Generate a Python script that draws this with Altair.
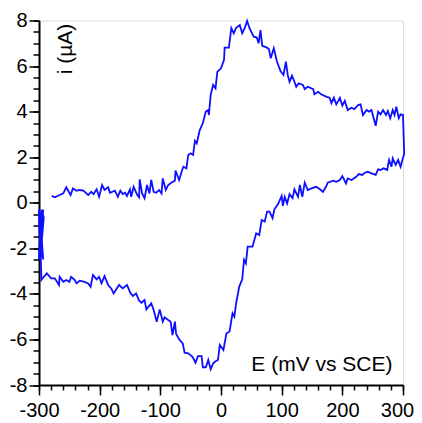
import altair as alt
import pandas as pd

# Forward (anodic) scan, upper branch
upper_E = [-279, -274, -266, -260, -255, -248, -244, -238, -233, -227, -219, -214, -210, -205, -201,
           -196, -192, -186, -183, -175, -170, -166, -162, -158, -155, -150, -148, -144, -138, -135,
           -134, -130, -126, -122, -118, -115, -111, -107, -102, -98, -96, -91, -87, -82, -76, -75,
           -69, -64, -62, -57, -54, -50, -46, -43, -40, -35, -30, -25, -21, -20, -17, -13, -9, -6,
           0, 5, 6, 13, 17, 21, 25, 31, 35, 39, 43, 47, 54, 59, 62, 65, 68, 75, 79, 82, 87, 92, 98,
           103, 107, 110, 113, 117, 120, 124, 128, 135, 138, 143, 152, 154, 160, 165, 174, 179, 182,
           186, 190, 196, 200, 204, 209, 215, 220, 226, 230, 234, 240, 244, 248, 255, 259, 263, 267,
           272, 275, 279, 283, 286, 289, 293, 296, 300]
upper_I = [0.30, 0.24, 0.34, 0.41, 0.68, 0.34, 0.63, 0.53, 0.56, 0.53, 0.34, 0.48, 0.38, 0.59, 0.26,
           0.78, 0.56, 0.68, 0.44, 0.53, 0.26, 0.53, 0.38, 0.44, 0.30, 0.59, 0.26, 0.70, 0.34, 0.24,
           1.03, 0.41, 0.20, 0.78, 0.41, 1.00, 0.48, 0.44, 0.56, 0.41, 1.07, 0.56, 0.78, 0.88, 0.97, 1.41,
           1.00, 1.44, 1.58, 1.51, 2.10, 2.17, 2.10, 2.72, 2.61, 3.19, 3.49, 4.00, 4.07, 3.85, 4.73, 5.17, 5.02, 5.75,
           5.90, 6.27, 6.81, 6.81, 7.66, 7.44, 7.68, 7.80, 7.44, 7.66, 7.98, 7.66, 7.29, 7.25, 7.00, 7.58, 6.89, 6.82, 6.75, 6.34, 6.78, 6.22, 5.78,
           5.61, 6.19, 5.61, 5.31, 5.58, 5.39, 5.09, 5.24, 5.17, 4.99, 5.09, 4.99, 4.76, 4.87, 4.76, 4.65, 4.61, 4.37,
           4.61, 4.32, 4.61, 4.26, 4.47, 4.07, 4.17, 4.11, 4.29, 4.32, 3.85, 4.07, 4.00, 4.07, 3.38, 4.00, 3.88, 4.07,
           3.85, 4.03, 3.71, 4.07, 3.85, 4.22, 3.71, 3.88, 3.85]

# Reverse (cathodic) scan, lower branch
lower_E = [302, 299, 296, 292, 288, 283, 281, 277, 274, 268, 263, 259, 255, 248, 242, 237, 233, 227, 223,
           215, 209, 206, 200, 196, 190, 185, 176, 173, 168, 163, 157, 149, 143, 138, 134, 130, 127, 121,
           118, 113, 109, 105, 102, 100, 94, 88, 85, 80, 76, 72, 67, 63, 58, 52, 44, 41, 38, 35, 30, 25,
           22, 19, 14, 9, 4, -2, -5, -10, -13, -17, -21, -25, -30, -32, -38, -42, -47, -54, -60, -63, -68,
           -74, -76, -80, -83, -87, -93, -96, -101, -106, -111, -115, -123, -126, -131, -135, -140, -145,
           -149, -155, -162, -168, -177, -181, -186, -192, -197, -201, -205, -211, -215, -219, -225, -233,
           -238, -241, -247, -250, -255, -260, -266, -267, -274, -280, -287, -292, -296, -297]
lower_I = [2.15, 1.88, 1.58, 1.88, 1.66, 1.95, 1.58, 1.88, 1.44, 1.51, 1.44, 1.47, 1.22, 1.29, 1.36, 1.32, 1.22, 1.26, 1.14,
           1.00, 1.07, 0.85, 1.17, 1.00, 0.92, 0.97, 0.88, 0.70, 0.48, 0.59, 0.70, 0.63, 0.56, 0.88, 0.26, 0.78, 0.26, 0.59,
           0.20, 0.38, -0.03, 0.26, -0.14, 0.30, -0.06, -0.29, -0.68, -0.39, -0.39, -0.83, -0.76, -1.42, -1.34, -1.93, -1.93, -2.66, -2.50, -3.36, -3.69, -4.41,
           -5.00, -4.85, -5.66, -5.73, -6.46, -6.24, -6.90, -6.98, -7.05, -7.31, -6.90, -7.22, -7.22, -6.73, -6.73, -7.02, -6.76, -6.61, -6.58, -6.17, -6.03,
           -5.76, -5.22, -5.81, -5.22, -5.15, -5.03, -5.22, -4.68, -5.22, -4.71, -4.41, -4.68, -4.27, -4.39, -4.30, -3.98, -4.09,
           -3.98, -3.61, -3.76, -3.61, -3.98, -3.76, -3.61, -3.22, -3.54, -3.25, -3.36, -3.17, -3.69, -3.54, -3.47, -3.42,
           -3.54, -3.39, -3.25, -3.47, -3.39, -3.47, -3.25, -3.61, -3.32, -3.32, -3.10, -3.25, -3.39, -2.51]

# Noisy hold at the -300 mV vertex
hold_E = [-296, -300, -293, -299, -295, -300, -292, -298, -300, -294, -299, -296, -300, -293, -298, -299,
          -294, -300, -296, -299, -293, -300, -295, -298, -300, -294, -297, -299]
hold_I = [-0.3, -2.4, -0.5, -2.5, -0.4, -2.2, -0.6, -2.5, -0.3, -2.3, -0.5, -2.4, -0.4, -2.5, -0.7, -2.3,
          -0.4, -2.5, -0.6, -2.1, -0.3, -2.4, -0.5, -2.5, -0.4, -2.2, -0.8, -1.5]

x_major = [-300, -200, -100, 0, 100, 200, 300]
x_minor = list(range(-300, 301, 20))
y_major = [-8, -6, -4, -2, 0, 2, 4, 6, 8]
y_minor = [v / 2 for v in range(-16, 17)]

E = upper_E + lower_E + hold_E
I = upper_I + lower_I + hold_I
df = pd.DataFrame({"E": E, "I": I, "idx": list(range(len(E)))})

FONT = "Liberation Sans"
xs = alt.Scale(domain=[-300, 300], nice=False, zero=False)
ys = alt.Scale(domain=[-8, 8], nice=False, zero=False)
fix = "replace(datum.label, '\u2212', '-')"

x_axis = alt.Axis(orient="bottom", values=x_major, format="d", labelExpr=fix, tickSize=10, tickWidth=1.5,
                  tickColor="black", domainColor="black", domainWidth=2, labelFontSize=20, labelFont=FONT,
                  labelColor="black", labelPadding=5, grid=False, labelFlush=False,
                  labelOffset={"condition": {"test": "datum.value == 300", "value": -6}, "value": 0},
                  title="E (mV vs SCE)", titleFont=FONT, titleFontSize=21, titleFontWeight="normal",
                  titleColor="black", titleAlign="right", titleBaseline="alphabetic",
                  titleX=353, titleY=-15, titleAnchor="end")
y_axis = alt.Axis(orient="left", values=y_major, format="d", labelExpr=fix, tickSize=10, tickWidth=1.5,
                  tickColor="black", domainColor="black", domainWidth=2, labelFontSize=20, labelFont=FONT,
                  labelColor="black", labelPadding=2, grid=False, labelFlush=False,
                  title="i (\u00b5A)", titleFont=FONT, titleFontSize=21, titleFontWeight="normal",
                  titleColor="black", titleAngle=270, titleAlign="center", titleBaseline="alphabetic",
                  titleX=32, titleY=28)
x_minor_axis = alt.Axis(orient="bottom", values=x_minor, labels=False, domain=False, tickSize=5,
                        tickWidth=1.5, tickColor="black", grid=False, title=None)
y_minor_axis = alt.Axis(orient="left", values=y_minor, labels=False, domain=False, tickSize=6,
                        tickWidth=1.5, tickColor="black", grid=False, title=None)

base = alt.Chart(df)
minor = base.mark_line(opacity=0).encode(
    x=alt.X("E:Q", scale=xs, axis=x_minor_axis),
    y=alt.Y("I:Q", scale=ys, axis=y_minor_axis),
    order="idx:Q",
)
line = base.mark_line(color="#0f0fff", strokeWidth=1.8).encode(
    x=alt.X("E:Q", scale=xs, axis=x_axis),
    y=alt.Y("I:Q", scale=ys, axis=y_axis),
    order="idx:Q",
)

chart = alt.layer(minor, line).resolve_axis(x="independent", y="independent").properties(
    width=364, height=364.5,
    autosize=alt.AutoSizeParams(type="none"),
    padding={"left": 31, "top": 12.5, "right": 11, "bottom": 38},
).configure_view(stroke="black", strokeWidth=2).configure(background="white")

chart.save("out.html", embed_options={"renderer": "svg", "actions": False})
